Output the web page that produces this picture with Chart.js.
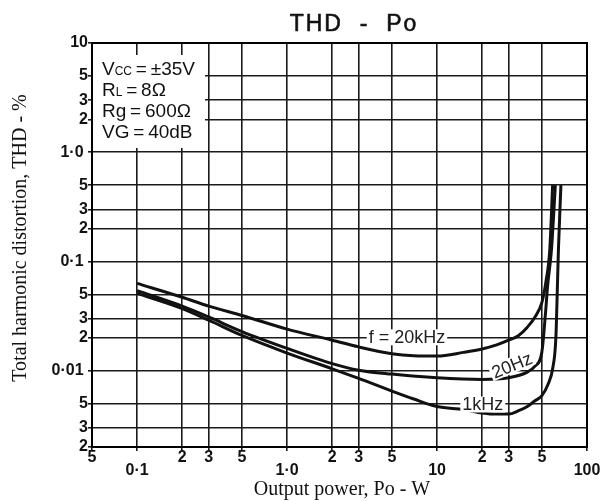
<!DOCTYPE html>
<html>
<head>
<meta charset="utf-8">
<title>THD - Po</title>
<script src="https://cdn.jsdelivr.net/npm/chart.js@4.4.1/dist/chart.umd.min.js"></script>
<style>
  html, body { margin: 0; padding: 0; background: #fff; }
  #wrap { width: 605px; height: 501px; }
</style>
</head>
<body>
<div id="wrap"><canvas id="chart"></canvas></div>
<script>
// Tick positions and their printed labels
const xTicks = [0.05, 0.1, 0.2, 0.3, 0.5, 1, 2, 3, 5, 10, 20, 30, 50, 100];
const xTickLabels = ['5', '0·1', '2', '3', '5', '1·0', '2', '3', '5', '10', '2', '3', '5', '100'];
const yTicks = [0.002, 0.003, 0.005, 0.01, 0.02, 0.03, 0.05, 0.1, 0.2, 0.3, 0.5, 1, 2, 3, 5, 10];
const yTickLabels = ['2', '3', '5', '0·01', '2', '3', '5', '0·1', '2', '3', '5', '1·0', '2', '3', '5', '10'];

// f = 20kHz
const po20k = [0.1, 0.2, 0.3, 0.5, 1, 2, 3, 5, 7, 10, 15, 20, 25, 30, 35, 40, 45, 50, 53, 56.5, 59];
const thd20k = [0.063, 0.047, 0.039, 0.032, 0.024, 0.019, 0.0165, 0.0143, 0.0137, 0.0136, 0.0147, 0.0158, 0.0172, 0.019, 0.021, 0.025, 0.031, 0.042, 0.063, 0.13, 0.5];

// f = 20Hz
const po20 = [0.1, 0.2, 0.3, 0.5, 1, 2, 3, 5, 10, 20, 30, 40, 45, 50, 53, 54.5, 58, 61.5];
const thd20 = [0.054, 0.039, 0.031, 0.0228, 0.016, 0.0116, 0.0101, 0.0093, 0.0086, 0.0083, 0.0086, 0.0097, 0.011, 0.0148, 0.035, 0.058, 0.13, 0.5];

// f = 1kHz
const po1k = [0.1, 0.2, 0.3, 0.5, 1, 2, 3, 5, 7, 10, 15, 20, 25, 30, 35, 40, 45, 50, 55, 59, 62, 63.5, 64.5, 67];
const thd1k = [0.051, 0.037, 0.029, 0.021, 0.0145, 0.0104, 0.0085, 0.0065, 0.0055, 0.0047, 0.0044, 0.0041, 0.004, 0.004, 0.0043, 0.0047, 0.0053, 0.0059, 0.0075, 0.0104, 0.02, 0.06, 0.13, 0.5];

const curveLabels = [
    { text: 'f = 20kHz', po: 6.3, thd: 0.0202, angle: 0 },
    { text: '20Hz', po: 31.6, thd: 0.0112, angle: -22 },
    { text: '1kHz', po: 20.2, thd: 0.0049, angle: 0 }
];

const conditions = [
    [['V', 19], ['CC', 12], [' = ±35V', 19]],
    [['R', 19], ['L', 12], [' = 8Ω', 19]],
    [['Rg = 600Ω', 19]],
    [['VG = 40dB', 19]]
];

const SANS = '"Liberation Sans", Arial, sans-serif';
const SERIF = '"Liberation Serif", "Times New Roman", serif';

function toPoints(xs, ys) {
    return xs.map((x, i) => ({ x: x, y: ys[i] }));
}

function isDecade(v) {
    const l = Math.log10(v);
    return Math.abs(l - Math.round(l)) < 1e-6;
}

function curve(label, xs, ys) {
    return {
        label: label,
        data: toPoints(xs, ys),
        borderColor: '#111',
        borderWidth: 3,
        pointRadius: 0,
        fill: false,
        cubicInterpolationMode: 'monotone'
    };
}

function drawRuns(ctx, x, y, runs) {
    for (const [t, size] of runs) {
        ctx.font = `${size}px ${SANS}`;
        // tight spaces around "=" like the printed sheet
        ctx.letterSpacing = '0px';
        const txt = t.replace(/ /g, '\u2009');
        ctx.fillText(txt, x, y);
        x += ctx.measureText(txt).width;
    }
}

const decor = {
    id: 'decor',
    beforeDatasetsDraw(chart) {
        const ctx = chart.ctx;
        const ca = chart.chartArea;
        // conditions box covers the grid
        ctx.save();
        ctx.fillStyle = '#fff';
        ctx.fillRect(ca.left + 1, ca.top + 12, 112, 93);
        ctx.fillStyle = '#111';
        ctx.textBaseline = 'alphabetic';
        conditions.forEach((runs, i) => drawRuns(ctx, ca.left + 10, ca.top + 32 + i * 21, runs));
        ctx.restore();
    },
    afterDatasetsDraw(chart) {
        const ctx = chart.ctx;
        const ca = chart.chartArea;
        const xs = chart.scales.x;
        const ys = chart.scales.y;
        ctx.save();
        ctx.strokeStyle = '#000';
        ctx.lineWidth = 2;
        ctx.strokeRect(ca.left, ca.top, ca.right - ca.left, ca.bottom - ca.top);

        ctx.font = `18px ${SANS}`;
        ctx.textAlign = 'center';
        ctx.textBaseline = 'middle';
        for (const lab of curveLabels) {
            const px = xs.getPixelForValue(lab.po);
            const py = ys.getPixelForValue(lab.thd);
            const w = ctx.measureText(lab.text).width;
            ctx.save();
            ctx.translate(px, py);
            ctx.rotate(lab.angle * Math.PI / 180);
            ctx.fillStyle = '#fff';
            ctx.fillRect(-w / 2 - 2, -8, w + 4, 16);
            ctx.fillStyle = '#222';
            ctx.fillText(lab.text, 0, 1);
            ctx.restore();
        }
        ctx.restore();
    },
    afterDraw(chart) {
        const ctx = chart.ctx;
        ctx.save();
        ctx.fillStyle = '#111';
        ctx.textAlign = 'center';
        ctx.textBaseline = 'alphabetic';
        ctx.font = `500 23px ${SANS}`;
        ctx.letterSpacing = '2px';
        ctx.strokeStyle = '#111';
        ctx.lineWidth = 0.6;
        ctx.fillText('THD  -  Po', 354, 31);
        ctx.strokeText('THD  -  Po', 354, 31);
        ctx.letterSpacing = '0px';

        ctx.font = `20px ${SERIF}`;
        ctx.fillText('Output power, Po - W', 342, 495);

        ctx.translate(21, 238);
        ctx.rotate(-Math.PI / 2);
        ctx.textBaseline = 'middle';
        ctx.fillText('Total harmonic distortion, THD - %', 0, 0);
        ctx.restore();
    }
};

const tickFont = { family: SANS, size: 16, weight: 'bold', lineHeight: 0.8 };
const gridOpts = { color: '#1a1a1a', lineWidth: 1.6, tickLength: 4 };

new Chart(document.getElementById('chart'), {
    type: 'line',
    data: {
        datasets: [
            curve('f = 20kHz', po20k, thd20k),
            curve('20Hz', po20, thd20),
            curve('1kHz', po1k, thd1k)
        ]
    },
    options: {
        responsive: true,
        maintainAspectRatio: false,
        animation: false,
        layout: { padding: { top: 43, right: 18, left: 0, bottom: 0 } },
        plugins: {
            legend: { display: false },
            title: { display: false },
            tooltip: { enabled: false }
        },
        scales: {
            x: {
                type: 'logarithmic',
                min: 0.05,
                max: 100,
                afterBuildTicks: s => { s.ticks = xTicks.map(v => ({ value: v })); },
                afterFit: s => { s.height = 54; },
                grid: gridOpts,
                border: { color: '#000', width: 2 },
                ticks: {
                    autoSkip: false,
                    maxRotation: 0,
                    minRotation: 0,
                    padding: 0,
                    color: '#111',
                    font: tickFont,
                    callback: (v, i) => isDecade(v) ? ['', xTickLabels[i]] : xTickLabels[i]
                }
            },
            y: {
                type: 'logarithmic',
                min: 0.002,
                max: 10,
                afterBuildTicks: s => { s.ticks = yTicks.map(v => ({ value: v })); },
                afterFit: s => { s.width = 92; },
                grid: gridOpts,
                border: { color: '#000', width: 2 },
                ticks: {
                    autoSkip: false,
                    padding: 0,
                    color: '#111',
                    font: tickFont,
                    callback: (v, i) => isDecade(v) && v < 10 ? yTickLabels[i] + ' ' : yTickLabels[i]
                }
            }
        }
    },
    plugins: [decor]
});
</script>
</body>
</html>
